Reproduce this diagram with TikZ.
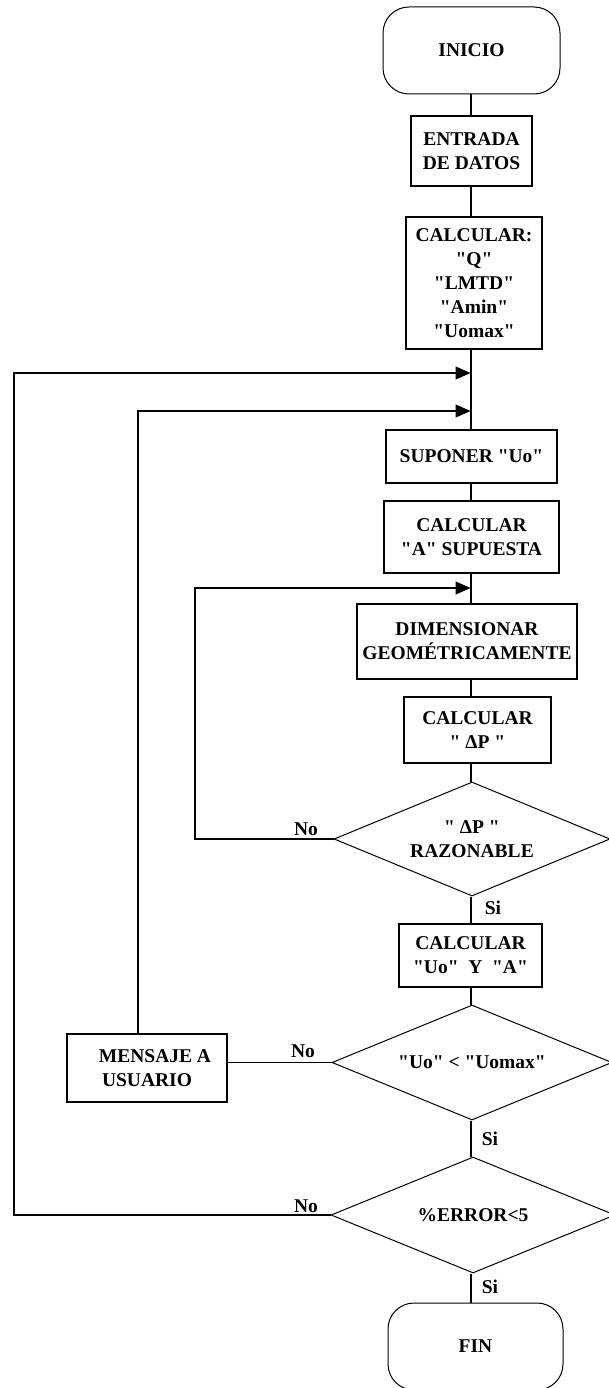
\documentclass[tikz,border=0pt]{standalone}
\usepackage{fontspec}
\setmainfont{Liberation Serif}[Ligatures=TeXOff]
\usetikzlibrary{shapes.geometric,arrows.meta}
\begin{document}
\begin{tikzpicture}[x=1pt,y=-1pt,line width=1.2pt,
  every node/.style={font=\fontsize{19.5}{24}\selectfont\bfseries,align=center,inner sep=0pt},
  proc/.style={draw,rectangle},
  term/.style={draw,rectangle,rounded corners=26pt,line width=1pt},
  decision/.style={draw,diamond,aspect=2.4,line width=1pt},
  tip/.style={-{Triangle[length=15pt,width=13pt]}}]
\useasboundingbox (0,0) rectangle (608,1388);

% main column of steps
\node[term,minimum width=177pt,minimum height=87pt] (inicio) at (471.5,50.5) {INICIO};
\node[proc,minimum width=121pt,minimum height=70pt] (entrada) at (471.5,151) {ENTRADA\\DE DATOS};
\node[proc,minimum width=136pt,minimum height=132pt] (calc) at (474,283) {CALCULAR:\\"Q"\\"LMTD"\\"Amin"\\"Uomax"};
\node[proc,minimum width=171pt,minimum height=53pt] (suponer) at (471.5,456.5) {SUPONER "Uo"};
\node[proc,minimum width=175pt,minimum height=72pt] (calcA) at (471.5,537) {CALCULAR\\"A" SUPUESTA};
\node[proc,minimum width=220pt,minimum height=75pt] (dimen) at (467,641.5) {DIMENSIONAR\\GEOMÉTRICAMENTE};
\node[proc,minimum width=147pt,minimum height=66pt] (calcP) at (477.5,730) {CALCULAR\\" ΔP "};
\node[decision,minimum width=276pt,minimum height=114pt] (dec1) at (472,839) {" ΔP "\\RAZONABLE};
\node[proc,minimum width=143pt,minimum height=63pt] (calcU) at (470.5,955.5) {CALCULAR\\"Uo"~~Y~~"A"};
\node[decision,minimum width=280pt,minimum height=115pt] (dec2) at (472,1062.5) {"Uo" < "Uomax"};
\node[proc,minimum width=160pt,minimum height=68pt] (msg) at (147,1068) {\hspace*{16pt}MENSAJE A\\USUARIO};
\node[decision,minimum width=284pt,minimum height=116pt] (dec3) at (473,1215) {\%ERROR<5};
\node[term,minimum width=175pt,minimum height=87pt] (fin) at (475.5,1346.5) {FIN};

% branch labels
\node (no1) at (306,829) {No};
\node (no2) at (303,1051) {No};
\node (no3) at (306,1206) {No};
\node (si1) at (493,908) {Si};
\node (si2) at (490,1139) {Si};
\node (si3) at (490,1287) {Si};

% reference coordinates for the vertical trunk and the return loops
\coordinate (col) at (471,0);
\coordinate (j1) at (470.5,373);
\coordinate (j2) at (470.5,411);
\coordinate (j3) at (470.5,588);
\coordinate (l1) at (14,0);
\coordinate (l2) at (138,0);
\coordinate (l3) at (195,0);

% trunk
\draw (inicio.south -| col) -- (entrada.north -| col);
\draw (entrada.south -| col) -- (calc.north -| col);
\draw (calc.south -| col) -- (suponer.north -| col);
\draw (suponer.south -| col) -- (calcA.north -| col);
\draw (calcA.south -| col) -- (dimen.north -| col);
\draw (dimen.south -| col) -- (calcP.north -| col);
\draw (calcP.south -| col) -- (dec1.north -| col);
\draw (dec1.south -| col) -- (calcU.north -| col);
\draw (calcU.south -| col) -- (dec2.north -| col);
\draw (dec2.south -| col) -- (dec3.north -| col);
\draw (dec3.south -| col) -- (fin.north -| col);

% return loops
\draw[tip] (dec3.west) -- (dec3.west -| l1) |- (j1);
\draw (dec2.west) -- (dec2.west -| msg.east);
\draw[tip] (msg.north -| l2) |- (j2);
\draw[tip] (dec1.west) -- (dec1.west -| l3) |- (j3);
\end{tikzpicture}
\end{document}
